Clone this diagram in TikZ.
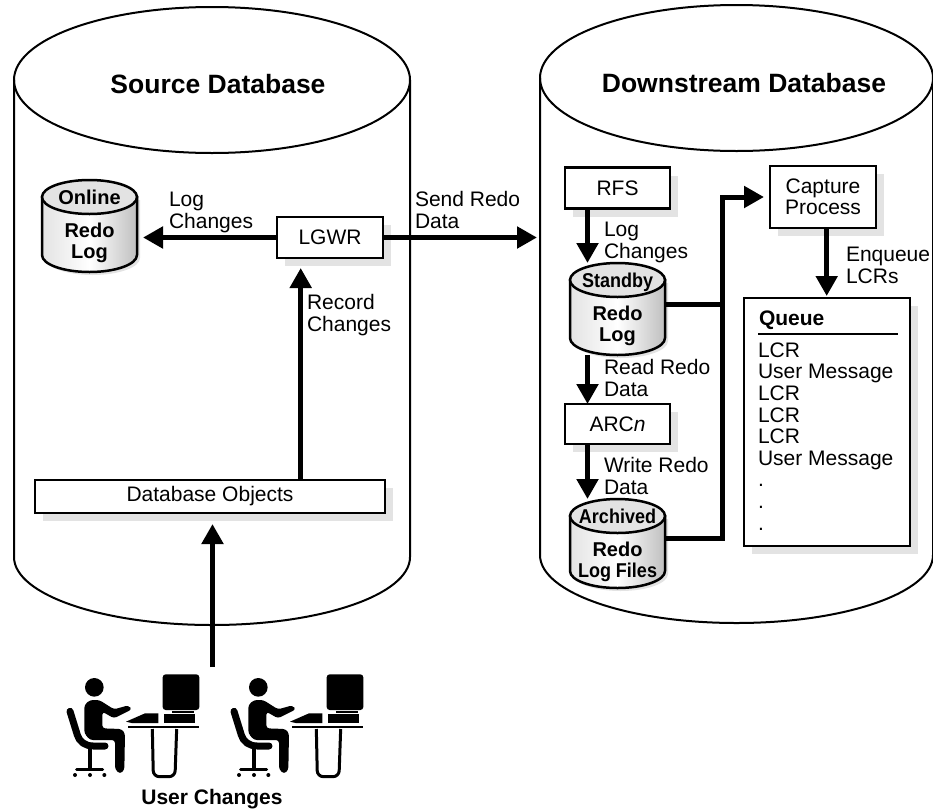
\documentclass[tikz,border=0pt]{standalone}
\usepackage{fontspec}
\setmainfont{Liberation Sans}
\newfontfamily\tightfont[FakeStretch=0.9]{Liberation Sans}
\usetikzlibrary{arrows.meta}
\usetikzlibrary{shadows}
\definecolor{shadowgray}{gray}{0.89}
\definecolor{topgray}{gray}{0.89}
\tikzset{>={Triangle[length=20pt,width=21pt]},
  box/.style={draw,fill=white,line width=2.5pt,inner sep=0pt,
    general shadow={fill=shadowgray,shadow xshift=8pt,shadow yshift=-8pt}},
  lbl/.style={inner sep=0pt,align=left,anchor=base west,font=\fontsize{21}{21.5}\selectfont},
  boxlbl/.style={font=\fontsize{21}{21.5}\selectfont},
  heading/.style={inner sep=0pt,anchor=base,font=\fontsize{26.5}{30}\selectfont\bfseries},
  cyltext/.style={inner sep=0pt,anchor=base,align=center,font=\fontsize{20}{21}\selectfont\bfseries},
  link/.style={line width=5pt},
  flow/.style={link,->},
}
% big database: centre x, half width, top y, side bottom y
\newcommand{\bigcyl}[5]{
  \draw (#2-#3,#4+73) -- (#2-#3,#5)
    arc[start angle=180,end angle=0,x radius=#3,y radius=68] -- (#2+#3,#4+73);
  \draw (#2,#4+73) ellipse[x radius=#3,y radius=73];
  \coordinate (#1) at (#2-#3,300);
}
% small log cylinder: name, centre x, top y, height, two texts
\newcommand{\logcyl}[6]{
  \fill[shadowgray,xshift=3pt,yshift=-3pt] (#2-47.5,#3+17) -- (#2-47.5,#3+#4-17)
    arc[start angle=180,end angle=0,x radius=47.5,y radius=17] -- (#2+47.5,#3+17) -- cycle;
  \draw[line width=2.5pt,left color=gray!22,middle color=white,right color=gray!50,shading angle=90,
      middle color=white]
    (#2-47.5,#3+17) -- (#2-47.5,#3+#4-17)
    arc[start angle=180,end angle=0,x radius=47.5,y radius=17] -- (#2+47.5,#3+17) -- cycle;
  \draw[line width=2.5pt,fill=topgray] (#2,#3+17) ellipse[x radius=47.5,y radius=17];
  \node[inner sep=0pt,minimum width=95pt,minimum height=#4] (#1) at (#2,#3+#4/2) {};
  \node[cyltext] (#1top) at (#2,#3+24) {#5};
  \node[cyltext] (#1body) at (#2,#3+78) {#6};
}
% one person at a desk, drawn in 3x units
\tikzset{userdesk/.pic={
  \begin{scope}[scale=1/3]
  \fill (163,112) circle (28);
  % person
  \fill[rounded corners=3pt] (133,165) -- (150,150) -- (178,150) -- (222,178) -- (265,166) -- (276,178)
    -- (222,205) -- (187,185) -- (187,235) -- (245,237) -- (255,250) -- (253,360) -- (240,372)
    -- (225,358) -- (225,270) -- (150,270) -- (133,250) -- cycle;
  % chair
  \draw[line width=7pt,line cap=round,line join=round] (90,184) -- (112,255) .. controls (118,275) and (135,288) .. (160,288) -- (195,288);
  \draw[line width=4pt] (150,295) -- (150,355);
  \draw[line width=3pt,line cap=round] (110,358) -- (188,358);
  \foreach \wheelx in {105,150,193} {
    \fill (\wheelx,375) circle (6);
  }
  % computer
  \fill[rounded corners=3pt] (368,73) rectangle (478,180);
  \fill (395,183) rectangle (462,188);
  \fill (372,192) rectangle (465,218);
  \fill (258,215) -- (315,190) -- (355,190) -- (355,219) -- (275,219) -- cycle;
  % desk
  \fill (263,227) rectangle (477,234);
  \draw[line width=3pt,rounded corners=6pt] (337,237) -- (340,380) -- (405,380) -- (410,237);
  \end{scope}
}}

\begin{document}
\begin{tikzpicture}[x=1pt,y=-1pt,line width=2pt,every node/.style={outer sep=0pt}]
  \useasboundingbox (0,0) rectangle (933,809);
  \def\stemx{587.5}

  % databases
  \bigcyl{sourcedb}{212}{198}{7}{557}
  \bigcyl{downdb}{736.5}{196.5}{5}{555}
  \node[heading] (sourcetitle) at (218,93) {Source Database};
  \node[heading] (downtitle) at (744,92) {Downstream Database};

  % Source side
  \logcyl{online}{89.5}{180}{92}{Online}{Redo\\Log}
  \node[box,boxlbl,minimum width=106pt,minimum height=41pt] (lgwr) at (330,237.5) {LGWR};
  \node[box,boxlbl,minimum width=350pt,minimum height=33pt] (dbobjects) at (210,496.5) {Database Objects};

  % Downstream side
  \node[box,boxlbl,minimum width=105pt,minimum height=41pt] (rfs) at (617.5,188) {RFS};
  \logcyl{standby}{617.5}{263}{92}{\tightfont Standby}{Redo\\Log}
  \node[box,boxlbl,minimum width=105pt,minimum height=40pt] (arcn) at (617.5,424) {ARC\textit{n}};
  \logcyl{archived}{617.5}{499}{89}{\tightfont Archived}{Redo\\\tightfont Log Files}
  \node[box,boxlbl,align=center,minimum width=106pt,minimum height=62pt] (capture) at (823,197) {Capture\\Process};
  \node[box,minimum width=166pt,minimum height=248pt] (queue) at (827,422) {};
  \node[inner sep=0pt,anchor=base west,font=\fontsize{21}{21.5}\selectfont\bfseries] (queuetitle) at (759,325) {Queue};
  \draw (758,334) -- (898,334);
  \node[inner sep=0pt,align=left,anchor=base west,font=\fontsize{21}{21.6}\selectfont] (queuelist) at (758,530)
    {LCR\\User Message\\LCR\\LCR\\LCR\\User Message\\.\\.\\.};

  \coordinate (recordx) at (300.7,400);
  \coordinate (stem) at (\stemx,400);
  \coordinate (bus) at (722.5,400);
  \coordinate (enqueuex) at (826.7,400);
  \coordinate (usersx) at (212.5,667);
  \coordinate (standbyout) at ([yshift=5pt]standby.east);
  \coordinate (archivedout) at ([yshift=5pt]archived.east);

  % connectors
  \draw[flow,shorten >=6pt] (lgwr.west) -- (lgwr.west -| online.east);
  \draw[flow,shorten >=3pt] (lgwr.east) -- (lgwr.east -| downdb);
  \draw[flow,shorten >=10pt] (recordx |- dbobjects.north) -- (recordx |- lgwr.south);
  \draw[flow,shorten >=11pt] (usersx) -- (usersx |- dbobjects.south);
  \draw[flow] (stem |- rfs.south) -- (stem |- standby.north);
  \draw[flow] (stem |- standby.south) -- (stem |- arcn.north);
  \draw[flow] (stem |- arcn.south) -- (stem |- archived.north);
  \draw[link] (standbyout) -- (bus |- standbyout);
  \draw[flow,shorten >=6pt,line join=miter] (archivedout) -- (bus |- archivedout) -- (bus |- capture.west) -- (capture.west);
  \draw[flow,shorten >=2pt] (enqueuex |- capture.south) -- (enqueuex |- queue.north);

  % labels
  \node[lbl] (logchanges) at (169,228) {Log\\Changes};
  \node[lbl] (sendredo) at (415,228) {Send Redo\\Data};
  \node[lbl] (recordchanges) at (307,331) {Record\\Changes};
  \node[lbl] (standbychanges) at (604,258) {Log\\Changes};
  \node[lbl] (readredo) at (604,396) {Read Redo\\Data};
  \node[lbl] (writeredo) at (604,494) {Write Redo\\Data};
  \node[lbl] (enqueue) at (846,283) {Enqueue\\LCRs};

  % users
  \pic (userone) at (40,650) {userdesk};
  \pic (usertwo) at (204,650) {userdesk};
  \node[inner sep=0pt,anchor=base,font=\fontsize{21}{24}\selectfont\bfseries] (userchanges) at (212,804) {User Changes};
\end{tikzpicture}
\end{document}
